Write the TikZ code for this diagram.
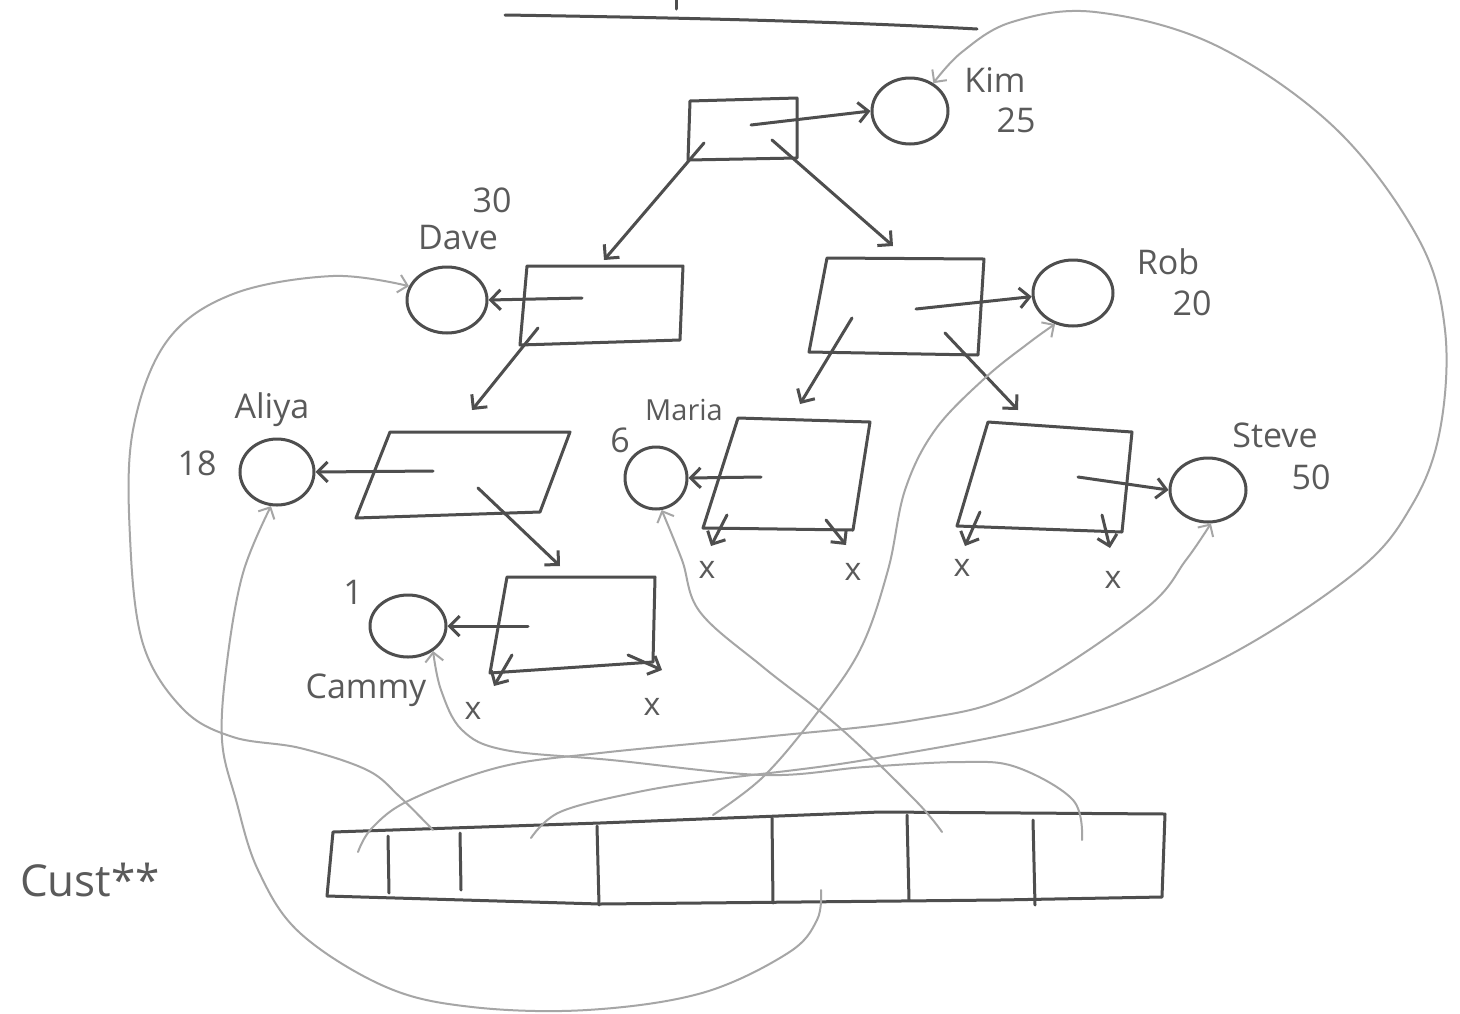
\documentclass[tikz,border=0pt]{standalone}
\usepackage{fontspec}
\setmainfont{Open Sans}
\usetikzlibrary{arrows.meta,shapes.geometric}
\definecolor{pencil}{HTML}{4E4E4E}
\definecolor{lightpencil}{HTML}{A6A6A6}
\definecolor{inkt}{HTML}{5A5A5A}
\begin{document}
\begin{tikzpicture}[x=1pt,y=-1pt,
  ink/.style={draw=pencil, line width=3pt, line cap=round, line join=round},
  lnk/.style={draw=lightpencil, line width=2pt, line cap=round, line join=round},
  arr/.style={-{Straight Barb[length=10pt,width=20pt]}},
  larr/.style={-{Straight Barb[length=9pt,width=18pt]}},
  pcirc/.style={ellipse, draw=pencil, line width=3pt, inner sep=0pt},
  lab/.style={text=inkt, font=\fontsize{34}{40}\selectfont, inner sep=0pt},
  slab/.style={text=inkt, font=\fontsize{29}{34}\selectfont, inner sep=0pt},
  xlab/.style={text=inkt, font=\fontsize{32}{38}\selectfont, inner sep=0pt}]
\fill[white] (0,0) rectangle (1460,1013);
\useasboundingbox (0,0) rectangle (1460,1013);

% top rule and cut-off stroke
\draw[ink] (505,15) .. controls (700,18) and (850,22) .. (977,29);
\draw[ink] (676,0) -- (676,9);

% person circles
\node[pcirc, minimum width=76pt, minimum height=66pt] (kim) at (910,111) {};
\node[pcirc, minimum width=80pt, minimum height=66pt] (dave) at (447,300) {};
\node[pcirc, minimum width=80pt, minimum height=66pt] (rob) at (1073,293) {};
\node[pcirc, minimum width=74pt, minimum height=66pt] (aliya) at (277,472) {};
\node[pcirc, minimum width=62pt, minimum height=62pt] (maria) at (656,478) {};
\node[pcirc, minimum width=76pt, minimum height=64pt] (steve) at (1208,490) {};
\node[pcirc, minimum width=76pt, minimum height=62pt] (cammy) at (408,626) {};

% labels
\node[lab] (tkim) at (995,80) {Kim};
\node[lab] (t25) at (1016,120) {25};
\node[lab] (t30) at (492,200) {30};
\node[lab] (tdave) at (458,238) {Dave};
\node[lab] (trob) at (1168,262) {Rob};
\node[lab] (t20) at (1192,303) {20};
\node[lab] (taliya) at (272,410) {Aliya};
\node[lab] (t18) at (197,463) {18};
\node[slab] (tmaria) at (684,410) {Maria};
\node[lab] (t6) at (620,440) {6};
\node[lab] (tsteve) at (1275,435) {Steve};
\node[lab] (t50) at (1311,477) {50};
\node[lab] (t1) at (353,592) {1};
\node[lab] (tcammy) at (366,690) {Cammy};
\node[text=inkt, font=\fontsize{44}{50}\selectfont, inner sep=0pt] (tcust) at (90,880) {Cust**};

% root box
\draw[ink] (690,101) -- (797,98) -- (797,158) -- (688,160) -- cycle;
\coordinate (rootp) at (751,125);
\coordinate (rootl) at (704,143);
\coordinate (rootr) at (772,140);
\coordinate (daveboxtop) at (604,260);
\coordinate (robboxtop) at (893,246);
\draw[ink,arr] (rootp) -- (kim.west);
\draw[ink,arr] (rootl) -- (daveboxtop);
\draw[ink,arr] (rootr) -- (robboxtop);

% Dave box
\draw[ink] (527,266) -- (683,266) -- (680,340) -- (520,345) -- cycle;
\coordinate (davep) at (582,298);
\coordinate (davel) at (538,328);
\coordinate (aliyaboxtop) at (472,410);
\draw[ink,arr] (davep) -- (dave.east);
\draw[ink,arr] (davel) -- (aliyaboxtop);

% Rob box
\draw[ink] (827,258) -- (984,259) -- (978,355) -- (809,352) -- cycle;
\coordinate (robp) at (916,309);
\coordinate (robl) at (852,318);
\coordinate (robr) at (945,333);
\coordinate (mariaboxtop) at (800,404);
\coordinate (steveboxtop) at (1018,410);
\draw[ink,arr] (robp) -- (rob.185);
\draw[ink,arr] (robl) -- (mariaboxtop);
\draw[ink,arr] (robr) -- (steveboxtop);

% Aliya box
\draw[ink] (390,432) -- (570,432) -- (540,512) -- (356,518) -- cycle;
\coordinate (aliyap) at (433,471);
\coordinate (aliyar) at (478,488);
\coordinate (cammyboxtop) at (560,566);
\draw[ink,arr] (aliyap) -- (aliya.east);
\draw[ink,arr] (aliyar) -- (cammyboxtop);

% Cammy box
\draw[ink] (507,577) -- (655,577) -- (653,662) -- (490,673) -- cycle;
\coordinate (cammyp) at (528,626);
\coordinate (cammyl) at (512,655);
\coordinate (cammyr) at (628,655);
\coordinate (cammynl) at (494,686);
\coordinate (cammynr) at (662,670);
\draw[ink,arr] (cammyp) -- (cammy.east);
\draw[ink,arr] (cammyl) -- (cammynl);
\draw[ink,arr] (cammyr) -- (cammynr);
\node[xlab] (x1) at (473,711) {x};
\node[xlab] (x2) at (652,707) {x};

% Maria box
\draw[ink] (738,418) -- (870,422) -- (853,530) -- (703,528) -- cycle;
\coordinate (mariap) at (761,477);
\coordinate (marial) at (727,515);
\coordinate (mariar) at (826,520);
\coordinate (marianl) at (711,546);
\coordinate (marianr) at (846,545);
\draw[ink,arr] (mariap) -- (maria.east);
\draw[ink,arr] (marial) -- (marianl);
\draw[ink,arr] (mariar) -- (marianr);
\node[xlab] (x3) at (707,570) {x};
\node[xlab] (x4) at (853,572) {x};

% Steve box
\draw[ink] (988,422) -- (1132,432) -- (1122,532) -- (957,526) -- cycle;
\coordinate (stevep) at (1078,477);
\coordinate (stevel) at (980,512);
\coordinate (stever) at (1102,515);
\coordinate (stevenl) at (965,546);
\coordinate (stevenr) at (1110,548);
\draw[ink,arr] (stevep) -- (steve.west);
\draw[ink,arr] (stevel) -- (stevenl);
\draw[ink,arr] (stever) -- (stevenr);
\node[xlab] (x5) at (962,568) {x};
\node[xlab] (x6) at (1113,580) {x};

% cust array
\draw[ink] (333,832) -- (600,823) -- (880,812) -- (1165,814) -- (1162,897) -- (1000,900) -- (600,904) -- (327,896) -- cycle;
\draw[ink] (388,836) -- (389,893);
\draw[ink] (460,833) -- (461,890);
\draw[ink] (597,826) -- (599,905);
\draw[ink] (772,818) -- (773,903);
\draw[ink] (907,815) -- (909,900);
\draw[ink] (1033,820) -- (1035,905);
\coordinate (c0) at (358,852);
\coordinate (c1) at (433,830);
\coordinate (c2) at (531,838);
\coordinate (c3) at (713,815);
\coordinate (c4) at (821,890);
\coordinate (c5) at (942,832);
\coordinate (c6) at (1082,840);

% pointer curves
\draw[lnk,larr] plot[smooth,tension=0.6] coordinates {(c2) (560,812) (633,793) (712,780) (865,760) (1067,720) (1220,660) (1356,572) (1412,505) (1440,430) (1445,330) (1418,238) (1335,128) (1215,45) (1095,12) (1012,22) (962,52) (kim.50)};
\draw[lnk,larr] plot[smooth,tension=0.6] coordinates {(c0) (372,828) (410,800) (500,767) (600,753) (763,737) (915,720) (1017,693) (1144,610) (1186,560) (steve.-85)};
\draw[lnk,larr] plot[smooth,tension=0.6] coordinates {(c3) (763,777) (814,717) (860,650) (888,570) (905,490) (935,430) (985,378) (1030,342) (rob.240)};
\draw[lnk,larr] plot[smooth,tension=0.6] coordinates {(c5) (915,800) (839,727) (763,667) (700,612) (682,560) (maria.-80)};
\draw[lnk,larr] plot[smooth,tension=0.6] coordinates {(c6) (1073,800) (1016,767) (961,762) (865,767) (763,775) (611,760) (505,750) (462,730) (441,690) (cammy.-45)};
\draw[lnk,larr] plot[smooth,tension=0.6] coordinates {(c1) (400,797) (367,770) (300,748) (233,737) (183,709) (143,644) (130,537) (133,430) (167,341) (233,294) (333,276) (dave.160)};
\draw[lnk,larr] plot[smooth,tension=0.6] coordinates {(c4) (817,920) (788,953) (702,993) (587,1010) (472,1007) (386,987) (300,933) (258,870) (236,800) (222,740) (227,662) (243,573) (aliya.-100)};
\end{tikzpicture}
\end{document}
